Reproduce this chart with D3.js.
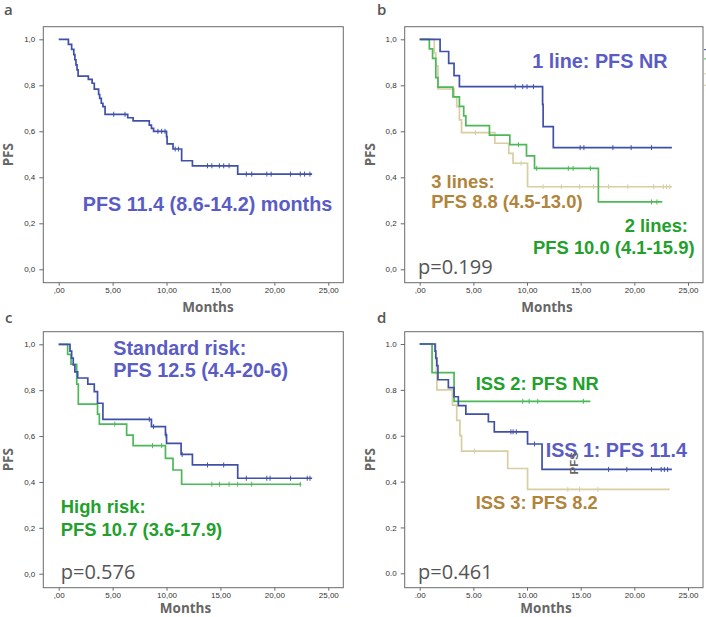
<!DOCTYPE html>
<html><head><meta charset="utf-8">
<script src="https://cdn.jsdelivr.net/npm/d3@7"></script>
<style>body{margin:0;background:#fff}</style>
</head><body>
<svg id="chart" width="706" height="617"></svg>
<script>
// ---------- data ----------
const xTicks = [0, 5, 10, 15, 20, 25];
const yTicks = [0, 0.2, 0.4, 0.6, 0.8, 1.0];

// panel a: all patients
const aTimes = [0.9, 1.2, 1.4, 1.5, 1.6, 1.7, 1.8, 2.75, 3.1, 3.3, 3.7, 3.8, 3.95, 4.1, 4.3, 6.4, 6.9, 8.4, 8.6, 8.8, 10.0, 10.05, 10.6, 11.4, 12.4, 16.6];
const aSurv  = [0.978, 0.956, 0.933, 0.911, 0.889, 0.867, 0.84, 0.826, 0.809, 0.783, 0.76, 0.743, 0.722, 0.707, 0.674, 0.659, 0.645, 0.627, 0.613, 0.6, 0.577, 0.545, 0.523, 0.472, 0.45, 0.414];
const aCens  = [5.1, 6.15, 9.2, 9.55, 9.86, 10.8, 11.1, 13.8, 14.2, 14.9, 15.3, 15.8, 17.4, 17.9, 19.3, 19.7, 21.5, 22.4, 22.8, 23.3];
const aEnd = 23.5;

// panel b: lines of therapy
const b1Times = [1.9, 2.7, 3.2, 3.7, 11.45, 11.5, 12.45];
const b1Surv  = [0.947, 0.895, 0.842, 0.794, 0.717, 0.62, 0.529];
const b1Cens  = [8.9, 9.6, 10.0, 10.6, 14.95, 15.3, 18.0, 19.7, 21.6];
const b1End = 23.5;
const b2Times = [0.9, 1.2, 1.5, 1.7, 3.1, 3.7, 4.1, 4.3, 6.5, 8.4, 9.95, 10.7, 16.65];
const b2Surv  = [0.958, 0.917, 0.833, 0.792, 0.75, 0.708, 0.667, 0.625, 0.583, 0.542, 0.493, 0.439, 0.293];
const b2Cens  = [9.2, 10.9, 13.85, 14.3, 15.9, 21.6, 22.1];
const b2End = 22.6;
const b3Times = [1.36, 1.5, 1.7, 3.2, 3.45, 3.7, 3.9, 7.0, 8.3, 8.7, 10.05];
const b3Surv  = [0.94, 0.885, 0.784, 0.75, 0.707, 0.65, 0.594, 0.548, 0.504, 0.461, 0.359];
const b3Cens  = [5.2, 9.45, 11.5, 13.2, 14.9, 16.2, 17.6, 19.4, 21.8, 22.7, 23.0, 23.3];
const b3End = 23.5;

// panel c: cytogenetic risk
const cStdTimes = [1.05, 1.2, 1.35, 1.5, 1.76, 2.7, 3.3, 3.6, 4.1, 8.6, 9.9, 10.0, 11.35, 12.4, 16.6];
const cStdSurv  = [0.97, 0.94, 0.91, 0.88, 0.853, 0.826, 0.794, 0.743, 0.673, 0.641, 0.605, 0.568, 0.52, 0.474, 0.416];
const cStdCens  = [8.4, 8.8, 9.95, 11.45, 13.8, 15.3, 17.4, 19.3, 19.6, 21.5, 23.05, 23.3];
const cStdEnd = 23.5;
const cHighTimes = [0.83, 1.14, 1.67, 1.82, 3.6, 3.77, 6.3, 6.9, 9.9, 10.6, 11.4];
const cHighSurv  = [0.956, 0.913, 0.826, 0.739, 0.696, 0.652, 0.604, 0.558, 0.503, 0.452, 0.39];
const cHighCens  = [5.2, 8.7, 9.55, 14.2, 14.9, 15.8, 16.6, 17.9, 22.4];
const cHighEnd = 22.5;

// panel d: ISS stage
const d1Times = [1.43, 1.5, 1.6, 1.7, 2.67, 3.2, 3.6, 4.3, 6.4, 6.95, 10.05, 11.4];
const d1Surv  = [0.969, 0.938, 0.906, 0.844, 0.81, 0.77, 0.731, 0.694, 0.661, 0.617, 0.564, 0.453];
const d1Cens  = [8.5, 8.7, 9.0, 10.7, 17.6, 19.3, 21.6, 22.5, 22.8, 23.1];
const d1End = 23.5;
const d2Times = [1.15, 3.2];
const d2Surv  = [0.875, 0.75];
const d2Cens  = [9.6, 10.2, 11.0, 15.25];
const d2End = 15.9;
const d3Times = [1.5, 1.55, 1.6, 3.05, 3.45, 3.75, 3.9, 8.2, 10.05];
const d3Surv  = [0.933, 0.867, 0.8, 0.733, 0.667, 0.6, 0.533, 0.457, 0.366];
const d3Cens  = [5.1, 13.8, 14.9, 16.6];
const d3End = 23.3;

// ---------- styles ----------
const C = {
  blueLine: "#3f50a8", greenLine: "#4cb858", tanLine: "#d8cea2",
  blueText: "#5a5cc6", greenText: "#22a02c", tanText: "#b0843a",
  grey: "#555"
};

const panels = [
  { letter: "a", lx: 4, ly: 15, box: {l: 43.3, t: 26.7, r: 343.3, b: 282.7}, xr: [58.7, 328.3], yr: [269.3, 39.3], sep: ",", monthsX: 208, monthsY: 312,
    series: [{t: aTimes, s: aSurv, c: aCens, end: aEnd, col: C.blueLine}],
    labels: [{text: "PFS 11.4 (8.6-14.2) months", t: 2.23, s: 0.255, col: C.blueText, size: 19.8}] },
  { letter: "b", lx: 377, ly: 15, box: {l: 404.7, t: 26.7, r: 703, b: 282.7}, xr: [419.7, 688], yr: [269.3, 39.3], sep: ",", monthsX: 547, monthsY: 312,
    series: [
      {t: b3Times, s: b3Surv, c: b3Cens, end: b3End, col: C.tanLine},
      {t: b2Times, s: b2Surv, c: b2Cens, end: b2End, col: C.greenLine},
      {t: b1Times, s: b1Surv, c: b1Cens, end: b1End, col: C.blueLine}],
    labels: [
      {text: "1 line: PFS NR", t: 10.49, s: 0.874, col: C.blueText, size: 19.8},
      {text: "3 lines:", t: 1.08, s: 0.355, col: C.tanText, size: 18.4},
      {text: "PFS 8.8 (4.5-13.0)", t: 1.08, s: 0.265, col: C.tanText, size: 18.4},
      {text: "2 lines:", t: 25.0, s: 0.161, col: C.greenText, size: 18.4, anchor: "end"},
      {text: "PFS 10.0 (4.1-15.9)", t: 10.56, s: 0.067, col: C.greenText, size: 18.4},
      {text: "p=0.199", t: -0.16, s: -0.02, col: C.grey, size: 20, pv: true}] },
  { letter: "c", lx: 5, ly: 323, box: {l: 43.3, t: 331.7, r: 343.3, b: 587.7}, xr: [58.7, 328.3], yr: [573.7, 344.3], sep: ",", monthsX: 185.5, monthsY: 613,
    series: [
      {t: cHighTimes, s: cHighSurv, c: cHighCens, end: cHighEnd, col: C.greenLine},
      {t: cStdTimes, s: cStdSurv, c: cStdCens, end: cStdEnd, col: C.blueLine}],
    labels: [
      {text: "Standard risk:", t: 5.06, s: 0.953, col: C.blueText, size: 19.8},
      {text: "PFS 12.5 (4.4-20-6)", t: 5.06, s: 0.859, col: C.blueText, size: 19.8},
      {text: "High risk:", t: 0.19, s: 0.263, col: C.greenText, size: 18.4},
      {text: "PFS 10.7 (3.6-17.9)", t: 0.19, s: 0.166, col: C.greenText, size: 18.4},
      {text: "p=0.576", t: 0.19, s: -0.023, col: C.grey, size: 20, pv: true}] },
  { letter: "d", lx: 377, ly: 323, box: {l: 404.7, t: 331.7, r: 703, b: 587.7}, xr: [419.7, 688], yr: [573.3, 344], sep: ".", monthsX: 546, monthsY: 613,
    series: [
      {t: d3Times, s: d3Surv, c: d3Cens, end: d3End, col: C.tanLine},
      {t: d2Times, s: d2Surv, c: d2Cens, end: d2End, col: C.greenLine},
      {t: d1Times, s: d1Surv, c: d1Cens, end: d1End, col: C.blueLine}],
    labels: [
      {text: "ISS 2: PFS NR", t: 5.22, s: 0.799, col: C.greenText, size: 18.3},
      {text: "ISS 1: PFS 11.4", t: 11.74, s: 0.509, col: C.blueText, size: 19.7},
      {text: "ISS 3: PFS 8.2", t: 5.22, s: 0.28, col: C.tanText, size: 18.3},
      {text: "p=0.461", t: -0.16, s: -0.025, col: C.grey, size: 20, pv: true}] }
];

// ---------- drawing ----------
const svg = d3.select("#chart");

function stepPoints(times, surv, end) {
  const pts = [[0, 1]];
  let s = 1;
  times.forEach((t, i) => { pts.push([t, s]); s = surv[i]; pts.push([t, s]); });
  pts.push([end, s]);
  return pts;
}
function survAt(times, surv, t) {
  let s = 1;
  times.forEach((tt, i) => { if (tt <= t) s = surv[i]; });
  return s;
}

panels.forEach(p => {
  const g = svg.append("g");
  const x = d3.scaleLinear().domain([0, 25]).range(p.xr);
  const y = d3.scaleLinear().domain([0, 1]).range(p.yr);
  const b = p.box;

  // panel letter
  g.append("text").attr("x", p.lx).attr("y", p.ly).text(p.letter)
    .attr("font-family", "'Open Sans', sans-serif").attr("font-size", 15).attr("font-weight", 600).attr("fill", "#555");

  // frame
  g.append("rect").attr("x", b.l).attr("y", b.t).attr("width", b.r - b.l).attr("height", b.b - b.t)
    .attr("fill", "none").attr("stroke", "#6a6a6a").attr("stroke-width", 1);

  // y axis
  const fmtY = d => d3.format(".1f")(d).replace(".", p.sep);
  const yAxis = d3.axisLeft(y).tickValues(yTicks).tickSize(4).tickPadding(4).tickFormat(fmtY);
  const ya = g.append("g").attr("transform", `translate(${b.l},0)`).call(yAxis);
  ya.select(".domain").remove();
  ya.selectAll("line").attr("stroke", "#6a6a6a");
  ya.selectAll("text").attr("font-family", "'Liberation Sans', Arial, sans-serif").attr("font-size", 8).attr("fill", "#333");

  // x axis
  const fmtX = d => d3.format(".2f")(d).replace(/^0/, "").replace(".", p.sep);
  const xAxis = d3.axisBottom(x).tickValues(xTicks).tickSize(3).tickPadding(1.5).tickFormat(fmtX);
  const xa = g.append("g").attr("transform", `translate(0,${b.b})`).call(xAxis);
  xa.select(".domain").remove();
  xa.selectAll("line").attr("stroke", "#6a6a6a");
  xa.selectAll("text").attr("font-family", "'Liberation Sans', Arial, sans-serif").attr("font-size", 8).attr("fill", "#333");

  // axis titles
  g.append("text").attr("x", p.monthsX).attr("y", p.monthsY).attr("text-anchor", "middle").text("Months")
    .attr("font-family", "'Open Sans', sans-serif").attr("font-size", 13.5).attr("font-weight", 700).attr("fill", "#666");
  const cy = (b.t + b.b) / 2;
  g.append("text").attr("transform", `translate(${b.l - 30},${cy}) rotate(-90)`).attr("text-anchor", "middle").text("PFS")
    .attr("font-family", "'Open Sans', sans-serif").attr("font-size", 13.5).attr("font-weight", 700).attr("fill", "#666");

  // curves
  const line = d3.line().x(d => x(d[0])).y(d => y(d[1]));
  p.series.forEach(s => {
    g.append("path").attr("d", line(stepPoints(s.t, s.s, s.end)))
      .attr("fill", "none").attr("stroke", s.col).attr("stroke-width", 1.7);
    g.selectAll(null).data(s.c).enter().append("line")
      .attr("x1", d => x(d)).attr("x2", d => x(d))
      .attr("y1", d => y(survAt(s.t, s.s, d)) - 2.5).attr("y2", d => y(survAt(s.t, s.s, d)) + 2.5)
      .attr("stroke", s.col).attr("stroke-width", 1);
  });

  // labels
  p.labels.forEach(l => {
    g.append("text").attr("x", x(l.t)).attr("y", y(l.s)).text(l.text)
      .attr("text-anchor", l.anchor || "start")
      .attr("font-family", l.pv ? "'Open Sans', sans-serif" : "'Liberation Sans', Arial, sans-serif")
      .attr("font-weight", l.pv ? 400 : 700)
      .attr("font-size", l.size).attr("fill", l.col);
  });

  if (p.letter === "d") {
    g.append("text").attr("transform", `translate(${x(14.29) + 4.5},${y(0.48)}) rotate(-90)`).attr("text-anchor", "middle")
      .text("PFS").attr("font-family", "'Liberation Sans', Arial, sans-serif").attr("font-size", 11.5).attr("font-weight", 700).attr("fill", "#666");
  }
  if (p.letter === "b") {
    const cols = [C.blueLine, C.greenLine, C.tanLine, C.tanLine];
    const ys = [0.955, 0.915, 0.85, 0.8];
    ys.forEach((v, i) => g.append("line").attr("x1", 704).attr("x2", 706).attr("y1", y(v)).attr("y2", y(v))
      .attr("stroke", cols[i]).attr("stroke-width", 1));
  }
});
</script>
</body></html>
